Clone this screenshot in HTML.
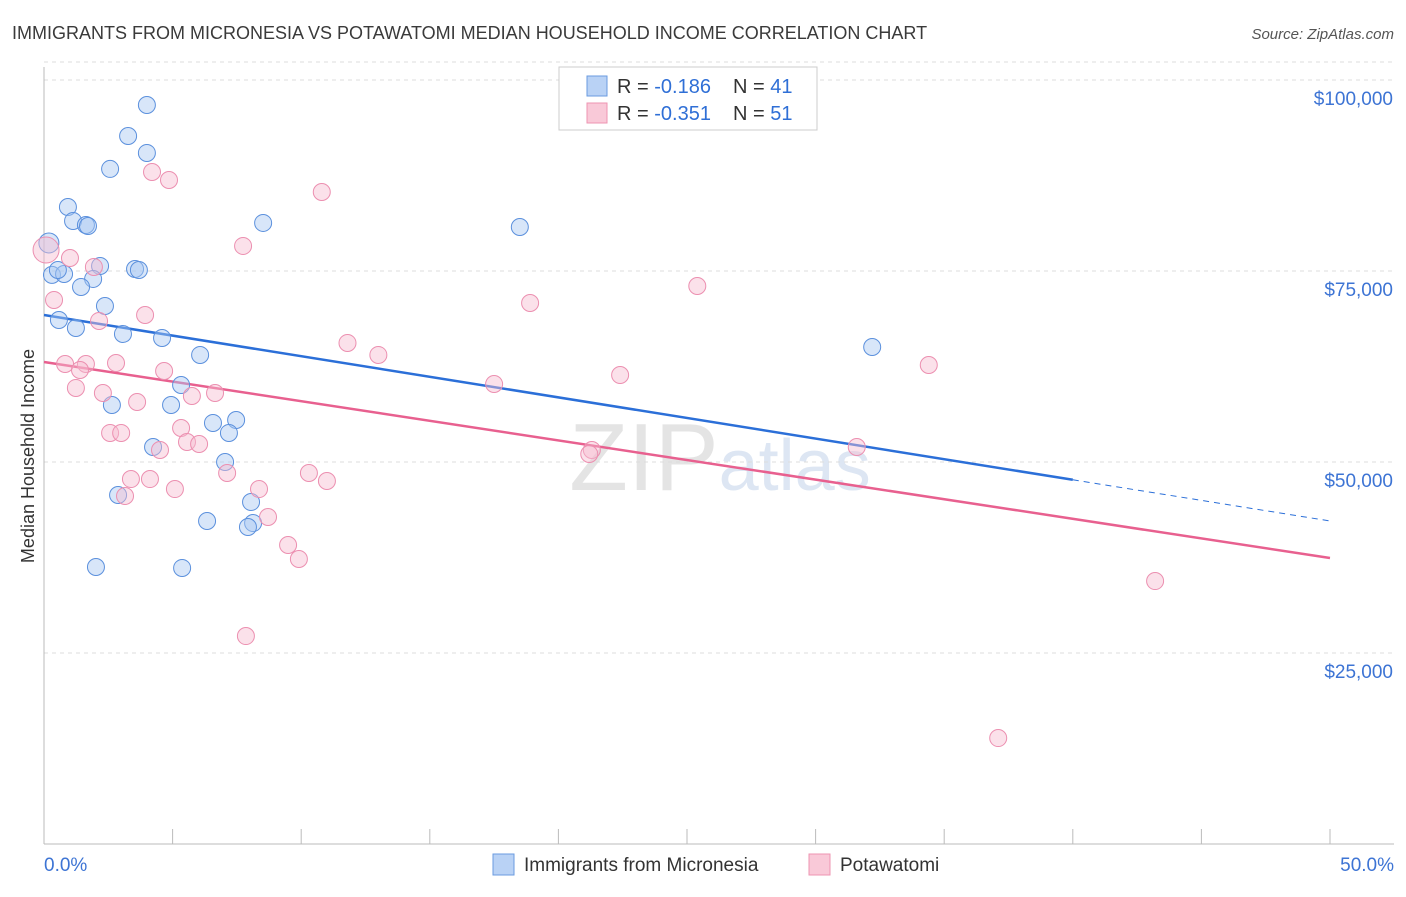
<!DOCTYPE html>
<html><head><meta charset="utf-8"><style>
body{margin:0;background:#fff;font-family:"Liberation Sans",sans-serif;}
svg text{font-family:"Liberation Sans",sans-serif;}
</style></head><body>
<svg id="chart" width="1406" height="892" xmlns="http://www.w3.org/2000/svg">
<text x="12" y="39" font-size="18" fill="#3a3a3a">IMMIGRANTS FROM MICRONESIA VS POTAWATOMI MEDIAN HOUSEHOLD INCOME CORRELATION CHART</text>
<text x="1394" y="39" font-size="15" fill="#555" text-anchor="end" font-style="italic">Source: ZipAtlas.com</text>
<text transform="translate(34,456) rotate(-90)" font-size="18" fill="#333" text-anchor="middle">Median Household Income</text>
<text x="720" y="490" font-size="96" fill="#e4e4e4" text-anchor="middle" font-family="Liberation Serif">ZIP<tspan fill="#dde6f3" font-family="Liberation Sans" font-size="72">atlas</tspan></text>
<g id="grid"></g><g id="axes"></g><g id="trend"></g><g id="pts"></g>
<g>
<rect x="559" y="67" width="258" height="63" fill="#fff" stroke="#ccc"/>
<rect x="587" y="76" width="20" height="20" fill="#b9d2f5" stroke="#6a9be0"/>
<rect x="587" y="103" width="20" height="20" fill="#f9c9d8" stroke="#ee94b2"/>
<text x="617" y="93" font-size="20" fill="#333">R = <tspan fill="#2f6fd6">-0.186</tspan></text>
<text x="733" y="93" font-size="20" fill="#333">N = <tspan fill="#2f6fd6">41</tspan></text>
<text x="617" y="120" font-size="20" fill="#333">R = <tspan fill="#2f6fd6">-0.351</tspan></text>
<text x="733" y="120" font-size="20" fill="#333">N = <tspan fill="#2f6fd6">51</tspan></text>
</g>
<g>
<rect x="493" y="854" width="21" height="21" fill="#b9d2f5" stroke="#6a9be0"/>
<text x="524" y="871" font-size="19" fill="#333">Immigrants from Micronesia</text>
<rect x="809" y="854" width="21" height="21" fill="#f9c9d8" stroke="#ee94b2"/>
<text x="840" y="871" font-size="19" fill="#333">Potawatomi</text>
</g>
</svg>
<script>
const yTicks=[25000,50000,75000,100000];
const yTickLabels=["$25,000","$50,000","$75,000","$100,000"];
const xTickLabels=["0.0%","50.0%"];
const blueX=[4.0,3.27,4.0,2.57,0.93,1.13,1.63,1.71,8.52,18.5,0.19,0.31,0.78,2.18,3.54,3.69,1.91,1.44,2.37,0.58,1.24,3.07,4.59,6.07,32.2,5.33,2.64,4.94,6.57,7.47,7.19,4.24,7.04,2.88,8.05,6.34,8.13,7.93,2.02,5.37,0.54];
const blueY=[96730,92670,90450,88360,83380,81550,81020,80890,81290,80760,78670,74490,74610,75660,75260,75130,73960,72910,70420,68590,67540,66760,66230,64010,65050,60080,57460,57460,55110,55500,53800,51960,50000,45680,44760,42280,42010,41490,36260,36130,75130];
const pinkX=[0.08,1.01,1.94,0.39,4.2,4.86,10.8,7.74,18.9,25.4,3.93,2.14,11.8,13.0,0.82,1.63,2.8,1.4,4.67,17.5,22.4,34.4,1.24,2.29,6.65,5.75,3.62,2.57,3.0,5.33,5.56,6.03,4.51,21.3,21.2,31.6,7.12,10.3,11.0,3.38,4.12,5.09,8.36,3.15,8.71,9.49,9.91,7.85,43.2,37.1];
const pinkY=[77750,76700,75530,71210,87960,86910,85340,78280,70810,73040,69240,68460,65580,64010,62830,62830,62960,62040,61910,60210,61390,62700,59690,59030,59030,58640,57850,53800,53800,54450,52620,52360,51570,51570,51050,51960,48560,48560,47510,47770,47770,46460,46460,45550,42800,39140,37300,27220,34420,13870];
const blueTrend=[69240,42280];
const pinkTrend=[63090,37430];
const NS="http://www.w3.org/2000/svg";
const X=p=>44+p*(1286/50);
const Y=v=>844-v*(191/25000);
function mk(t,a,parent){const e=document.createElementNS(NS,t);for(const k in a)e.setAttribute(k,a[k]);document.getElementById(parent).appendChild(e);return e;}
yTicks.forEach((v,i)=>{
 const l=mk('line',{x1:44,x2:1394,y1:Y(v),y2:Y(v),stroke:'#ddd','stroke-dasharray':'4,4'},'grid');
 
 
 const t=mk('text',{x:1393,y:Y(v)+25,'font-size':19,fill:'#3d74d4','text-anchor':'end'},'grid');
 t.textContent=yTickLabels[i];
 
 
});
const topLine=mk('line',{x1:44,x2:1394,y1:Y(100000)-18,y2:Y(100000)-18,stroke:'#ddd','stroke-dasharray':'4,4'},'grid');


const ya=mk('line',{x1:44,x2:44,y1:67,y2:844,stroke:'#bbb'},'axes');


const xa=mk('line',{x1:44,x2:1394,y1:844,y2:844,stroke:'#bbb'},'axes');


for(let p=0;p<=50;p+=5){
 const t=mk('line',{x1:X(p),x2:X(p),y1:829,y2:844,stroke:'#bbb'},'axes');
 
 
}
[[0,'start',44],[50,'end',1394]].forEach((d,i)=>{
 const t=mk('text',{x:d[2],y:871,'font-size':19,fill:'#3d74d4','text-anchor':d[1]},'axes');
 t.textContent=xTickLabels[i];
 
 
});
function dot(x,y,r,f,s,name){const c=mk('circle',{cx:X(x),cy:Y(y),r:r,fill:f,'fill-opacity':0.45,stroke:s,'stroke-width':1},'pts');
 
 }
blueX.forEach((x,i)=>dot(x,blueY[i],i==10?10:8.5,'#a9c8f2','#5b90dd','point-micronesia'));
pinkX.forEach((x,i)=>dot(x,pinkY[i],i==0?13:8.5,'#f6bcd0','#ec8fb0','point-potawatomi'));
const bx=40;
const by=blueTrend[0]+(blueTrend[1]-blueTrend[0])*bx/50;
const b1=mk('line',{x1:X(0),y1:Y(blueTrend[0]),x2:X(bx),y2:Y(by),stroke:'#2b6fd8','stroke-width':2.5},'trend');


const b2=mk('line',{x1:X(bx),y1:Y(by),x2:X(50),y2:Y(blueTrend[1]),stroke:'#2b6fd8','stroke-width':1,'stroke-dasharray':'6,5'},'trend');


const p1=mk('line',{x1:X(0),y1:Y(pinkTrend[0]),x2:X(50),y2:Y(pinkTrend[1]),stroke:'#e8608f','stroke-width':2.5},'trend');


</script>
</body></html>
